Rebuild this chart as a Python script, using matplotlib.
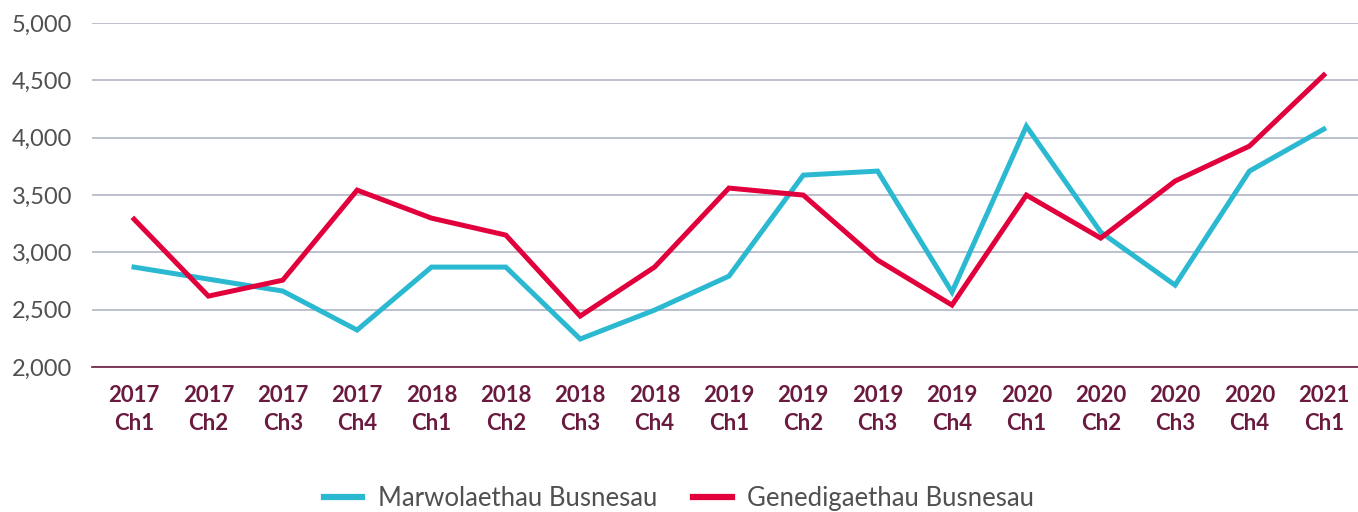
import matplotlib
matplotlib.use("Agg")
import matplotlib.pyplot as plt
from matplotlib.ticker import FuncFormatter

categories = ["2017\nCh1", "2017\nCh2", "2017\nCh3", "2017\nCh4",
              "2018\nCh1", "2018\nCh2", "2018\nCh3", "2018\nCh4",
              "2019\nCh1", "2019\nCh2", "2019\nCh3", "2019\nCh4",
              "2020\nCh1", "2020\nCh2", "2020\nCh3", "2020\nCh4",
              "2021\nCh1"]
deaths = [2872, 2767, 2663, 2323, 2872, 2872, 2245, 2497, 2793, 3674,
          3709, 2654, 4101, 3177, 2715, 3709, 4075]
births = [3290, 2619, 2758, 3543, 3299, 3151, 2445, 2872, 3561, 3500,
          2933, 2541, 3500, 3125, 3622, 3927, 4546]
yticks = [2000, 2500, 3000, 3500, 4000, 4500, 5000]
series_names = ["Marwolaethau Busnesau", "Genedigaethau Busnesau"]

plt.rcParams['font.family'] = ['Lato', 'DejaVu Sans']

fig = plt.figure(figsize=(13.58, 5.12), dpi=100)
ax = fig.add_axes([0.0677, 0.283, 0.9323, 0.672])

x = list(range(len(categories)))
ax.plot(x, deaths, color="#2bb9d1", lw=3.6, label=series_names[0], solid_joinstyle="miter")
ax.plot(x, births, color="#e2003c", lw=3.6, label=series_names[1], solid_joinstyle="miter")

ax.set_ylim(2000, 5000)
ax.set_xlim(-0.566, 16.46)
ax.set_yticks(yticks)
ax.yaxis.set_major_formatter(FuncFormatter(lambda v, p: f"{int(v):,}"))
ax.set_xticks(x)
ax.set_xticklabels(categories, fontsize=16, fontweight="bold", color="#6b1a3f",
                   linespacing=1.4)
for lbl in ax.get_yticklabels():
    lbl.set_fontsize(17)
    lbl.set_color("#505050")

ax.grid(axis="y", color="#a9aebf", lw=1.1)
ax.set_axisbelow(True)
for s in ["top", "right", "left"]:
    ax.spines[s].set_visible(False)
ax.spines["bottom"].set_color("#6b1a3f")
ax.spines["bottom"].set_linewidth(1.2)
ax.tick_params(axis="both", length=0)
ax.tick_params(axis="x", pad=13)
ax.tick_params(axis="y", pad=14)

leg = fig.legend(loc="center", bbox_to_anchor=(0.5, 0.027), ncol=2, frameon=False,
                 fontsize=18.5, handlelength=1.5, columnspacing=1.4, handletextpad=0.6)
for t in leg.get_texts():
    t.set_color("#505050")
for h in leg.get_lines():
    h.set_linewidth(4.5)

fig.savefig("out.png", dpi=100)
